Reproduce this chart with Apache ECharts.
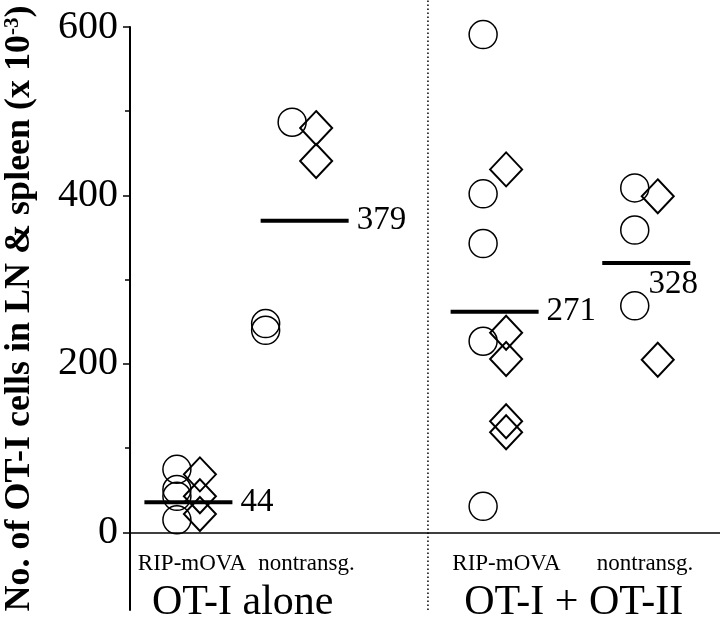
<!DOCTYPE html>
<html>
<head>
<meta charset="utf-8">
<script src="https://cdn.jsdelivr.net/npm/echarts@6/dist/echarts.min.js"></script>
<style>
  html, body { margin: 0; background: #fff; }
  #chart { width: 720px; height: 626px; }
</style>
</head>
<body>
<div id="chart"></div>
<script>
  // data (cells x 10^-3)
  var groups = ['RIP-mOVA', 'nontransg.', 'RIP-mOVA', 'nontransg.'];
  var conditions = ['OT-I alone', 'OT-I + OT-II'];
  var yTicks = [0, 200, 400, 600];
  var yMinorTicks = [100, 300, 500];
  var circleValues = [[75, 51, 43, 15], [487, 248, 240], [591, 402, 343, 227, 31], [409, 359, 269]];
  var diamondValues = [[69, 43, 22], [480, 441], [431, 237, 206, 132, 119], [399, 205]];
  var meanValues = [36, 370, 262, 320];
  var meanLabels = ['44', '379', '271', '328'];

  // layout on the hidden x scale
  var groupX = [0.99, 2.96, 6.18, 8.75];
  var labelX = [1.05, 2.99, 6.38, 8.73];
  var conditionX = [1.91, 7.52];
  var dividerX = 5.05;
  var circleShift = [[-11.5, -11.5, -11.5, -11.5], [-12.5, -39, -39], [-11.5, -11.5, -11.5, -11.5, -11.5], [-11.5, -11.5, -11.5]];

  var serif = '"Liberation Serif", "DejaVu Serif", serif';

  function points(values, shifts, dx) {
    var out = [];
    values.forEach(function (list, g) {
      list.forEach(function (v, i) {
        out.push({ value: [groupX[g], v], symbolOffset: [shifts ? shifts[g][i] : dx, 0] });
      });
    });
    return out;
  }

  function labelAt(positions, names) {
    return function (value) {
      for (var i = 0; i < positions.length; i++) {
        if (Math.abs(positions[i] - value) < 1e-6) return names[i];
      }
      return '';
    };
  }

  function labelAxis(positions, names, size, margin) {
    return {
      type: 'value', min: 0, max: 10, position: 'bottom',
      axisLine: { show: false, onZero: false },
      axisTick: { show: false },
      splitLine: { show: false },
      axisLabel: {
        customValues: positions, formatter: labelAt(positions, names), margin: margin,
        color: '#000', fontFamily: serif, fontSize: size
      }
    };
  }

  var chart = echarts.init(document.getElementById('chart'), null, { renderer: 'canvas' });
  chart.setOption({
    backgroundColor: '#fff',
    animation: false,
    grid: { left: 130, right: 0, top: 27, bottom: 16, containLabel: false, outerBoundsMode: 'none' },
    xAxis: [{
      type: 'value', min: 0, max: 10,
      axisLine: { onZero: true, lineStyle: { color: '#000', width: 1.5 } },
      axisTick: { show: false },
      splitLine: { show: false },
      axisLabel: { show: false }
    },
      labelAxis(labelX, groups, 23, -58),
      labelAxis(conditionX, conditions, 42, -28)
    ],
    yAxis: [{
      type: 'value', min: -92, max: 600,
      name: '{t|No. of OT-I cells in LN & spleen (x 10}{s|-3}{t|)}',
      nameLocation: 'middle', nameRotate: 90, nameGap: 92,
      nameTextStyle: {
        padding: [0, 0, 0, 20],
        rich: {
          t: { fontFamily: serif, fontWeight: 'bold', fontSize: 36, color: '#000' },
          s: { fontFamily: serif, fontWeight: 'bold', fontSize: 21, color: '#000', verticalAlign: 'top' }
        }
      },
      axisLine: { show: true, lineStyle: { color: '#000', width: 2 } },
      axisTick: { show: true, customValues: yTicks, length: 7, lineStyle: { color: '#000', width: 1.5 } },
      axisLabel: { customValues: yTicks, margin: 12, color: '#000', fontFamily: serif, fontSize: 40 },
      splitLine: { show: false }
    }, {
      type: 'value', min: -92, max: 600, position: 'left',
      axisLine: { show: false },
      axisTick: { show: true, customValues: yMinorTicks, length: 5, lineStyle: { color: '#000', width: 1.5 } },
      axisLabel: { show: false },
      splitLine: { show: false }
    }],
    series: [{
      type: 'line',
      clip: false,
      symbol: 'none',
      silent: true,
      data: [[dividerX, -92], [dividerX, 632]],
      lineStyle: { color: '#000', width: 1.5, type: [1.5, 2.5] }
    }, {
      name: 'circle',
      type: 'scatter',
      symbol: 'circle',
      symbolSize: 28,
      itemStyle: { color: 'rgba(0,0,0,0)', borderColor: '#000', borderWidth: 1.5, opacity: 1 },
      data: points(circleValues, circleShift)
    }, {
      name: 'diamond',
      type: 'scatter',
      symbol: 'diamond',
      symbolSize: [32, 34],
      itemStyle: { color: 'rgba(0,0,0,0)', borderColor: '#000', borderWidth: 2, opacity: 1 },
      data: points(diamondValues, null, 11.5)
    }, {
      name: 'mean',
      type: 'scatter',
      symbol: 'rect',
      symbolSize: [88, 4],
      itemStyle: { color: '#000', opacity: 1 },
      label: {
        show: true, position: 'right', distance: 8,
        color: '#000', fontFamily: serif, fontSize: 33,
        formatter: function (p) { return meanLabels[p.dataIndex]; }
      },
      data: meanValues.map(function (v, g) {
        var item = { value: [groupX[g], v] };
        if (g === 3) item.label = { position: 'inside', offset: [27, 21] };
        return item;
      })
    }]
  });
</script>
</body>
</html>
